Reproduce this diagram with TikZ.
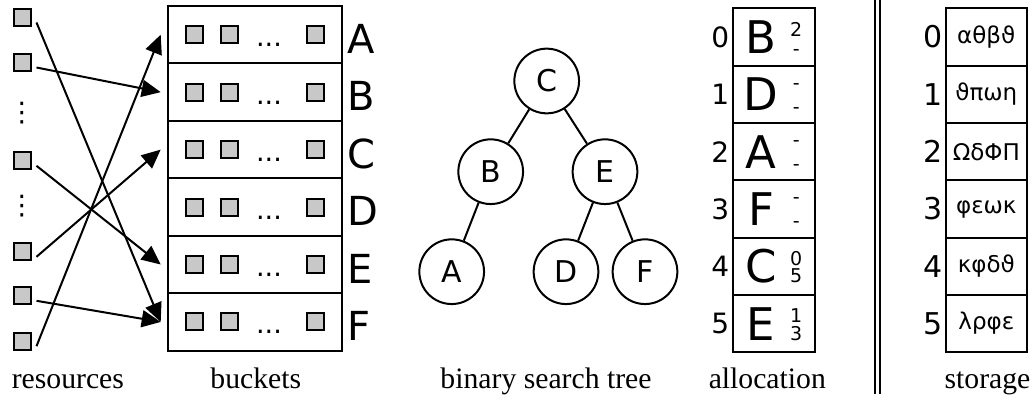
\documentclass[tikz,border=0pt]{standalone}
\usepackage{fontspec}
\setmainfont{Liberation Serif}
\newfontfamily\dejavu{DejaVu Sans}
\usetikzlibrary{arrows.meta,positioning}
\definecolor{boxgray}{HTML}{C8C8C8}

\begin{document}
\begin{tikzpicture}[x=1pt, y=-1pt,
    item/.style={draw, fill=boxgray, line width=2pt, minimum size=17pt, inner sep=0},
    bucket/.style={draw, line width=2pt, minimum width=174pt, minimum height=57.45pt, inner sep=0},
    bucketletter/.style={font=\dejavu\fontsize{40}{42}\selectfont, inner sep=0, anchor=west},
    dotsfont/.style={font=\dejavu\fontsize{27}{29}\selectfont, inner sep=0, anchor=base},
    vdotsfont/.style={font=\dejavu\fontsize{27}{29}\selectfont, inner sep=0},
    feed/.style={-{Triangle[length=19pt, width=17pt]}, line width=2pt},
    treenode/.style={draw, circle, line width=2pt, minimum size=64.7pt, inner sep=0,
                     font=\dejavu\fontsize{30}{32}\selectfont},
    edge/.style={line width=2pt},
    cell/.style={draw, line width=2pt, minimum width=81.7pt, minimum height=57.33pt, inner sep=0},
    allocletter/.style={font=\dejavu\fontsize{45}{47}\selectfont, inner sep=0},
    allocidx/.style={font=\dejavu\fontsize{28}{30}\selectfont, inner sep=0},
    tag/.style={font=\dejavu\fontsize{19}{20}\selectfont, inner sep=0},
    storeidx/.style={font=\dejavu\fontsize{30}{32}\selectfont, inner sep=0},
    greek/.style={font=\dejavu\fontsize{23}{25}\selectfont, inner sep=0},
    sep/.style={double, double distance=3pt, line width=2pt},
    caption/.style={font=\fontsize{29.7}{34}\selectfont, inner sep=0, anchor=base}
]
\useasboundingbox (0,0) rectangle (1033,401);

% --- resources ---
\node[item] (r1) at (22, 17.5) {};
\node[item] (r2) at (22, 62.5) {};
\node[vdotsfont] (dv1) at (22, 113) {⋮};
\node[item] (r3) at (22, 160.8) {};
\node[vdotsfont] (dv2) at (22, 206) {⋮};
\node[item] (r4) at (22, 251.8) {};
\node[item] (r5) at (22, 295.8) {};
\node[item] (r6) at (22, 341.2) {};

% --- buckets ---
\foreach \l [count=\i from 0] in {A,B,C,D,E,F} {
  \node[bucket] (b\l) at (254.7, {34.7+57.45*\i}) {};
  \node[item] (b\l1) at ([xshift=-60.7pt]b\l.center) {};
  \node[item] (b\l2) at ([xshift=-25pt]b\l.center) {};
  \node[dotsfont] (b\l d) at ([shift={(14.3pt,-12pt)}]b\l.center) {...};
  \node[item] (b\l3) at ([xshift=60.3pt]b\l.center) {};
  \node[bucketletter] (l\l) at ([shift={(5pt,-4pt)}]b\l.east) {\l};
}

% --- resources into buckets ---
\draw[feed] ([shift={(5pt,-5pt)}]r1.east) -- ([xshift=-6pt]bF.west);
\draw[feed] ([shift={(5pt,-5pt)}]r2.east) -- ([xshift=-6pt]bB.west);
\draw[feed] ([shift={(5pt,-5pt)}]r3.east) -- ([xshift=-6pt]bE.west);
\draw[feed] ([shift={(5pt,-5pt)}]r4.east) -- ([xshift=-6pt]bC.west);
\draw[feed] ([shift={(5pt,-5pt)}]r5.east) -- ([xshift=-6pt]bF.west);
\draw[feed] ([shift={(5pt,-5pt)}]r6.east) -- ([xshift=-6pt]bA.west);

% --- binary search tree ---
\node[treenode] (tC) at (546.7, 81) {C};
\node[treenode] (tB) at (490.7, 171.7) {B};
\node[treenode] (tE) at (605, 171.7) {E};
\node[treenode] (tA) at (451.7, 271.7) {A};
\node[treenode] (tD) at (566, 271.7) {D};
\node[treenode] (tF) at (645, 271.7) {F};
\draw[edge] (tC) -- (tB);
\draw[edge] (tC) -- (tE);
\draw[edge] (tB) -- (tA);
\draw[edge] (tE) -- (tD);
\draw[edge] (tE) -- (tF);

% --- allocation table (letter, upper tag, lower tag, lower offset) ---
\foreach \l/\t/\b/\d [count=\i from 0] in
    {B/2/-/16, D/-/-/16, A/-/-/16, F/-/-/16, C/0/5/9.5, E/1/3/9.5} {
  \node[cell] (a\i) at (774.2, {37+57.33*\i}) {};
  \node[allocidx, left=3pt of a\i] (ai\i) {\i};
  \node[allocletter] (al\i) at ([xshift=-13pt]a\i.center) {\l};
  \node[tag] (at\i) at ([shift={(22pt,8pt)}]a\i.center) {\t};
  \node[tag] (ab\i) at ([shift={(22pt,-\d pt)}]a\i.center) {\b};
}

% --- separator ---
\draw[sep] (877, 0) -- (877, 394);

% --- storage table ---
\foreach \g [count=\i from 0] in {αθβϑ, ϑπωη, ΩδΦΠ, φεωκ, κφδϑ, λρφε} {
  \node[cell, minimum width=80.7pt] (s\i) at (986.3, {37+57.33*\i}) {};
  \node[storeidx, left=2pt of s\i] (si\i) {\i};
  \node[greek] (sg\i) at (s\i.center) {\g};
}

% --- captions ---
\node[caption] (cres) at (67.9, 388) {resources};
\node[caption] (cbuck) at (255.8, 388) {buckets};
\node[caption] (ctree) at (546, 388) {binary search tree};
\node[caption] (calloc) at (767.3, 388) {allocation};
\node[caption] (cstore) at (987.5, 388) {storage};

\end{tikzpicture}
\end{document}
